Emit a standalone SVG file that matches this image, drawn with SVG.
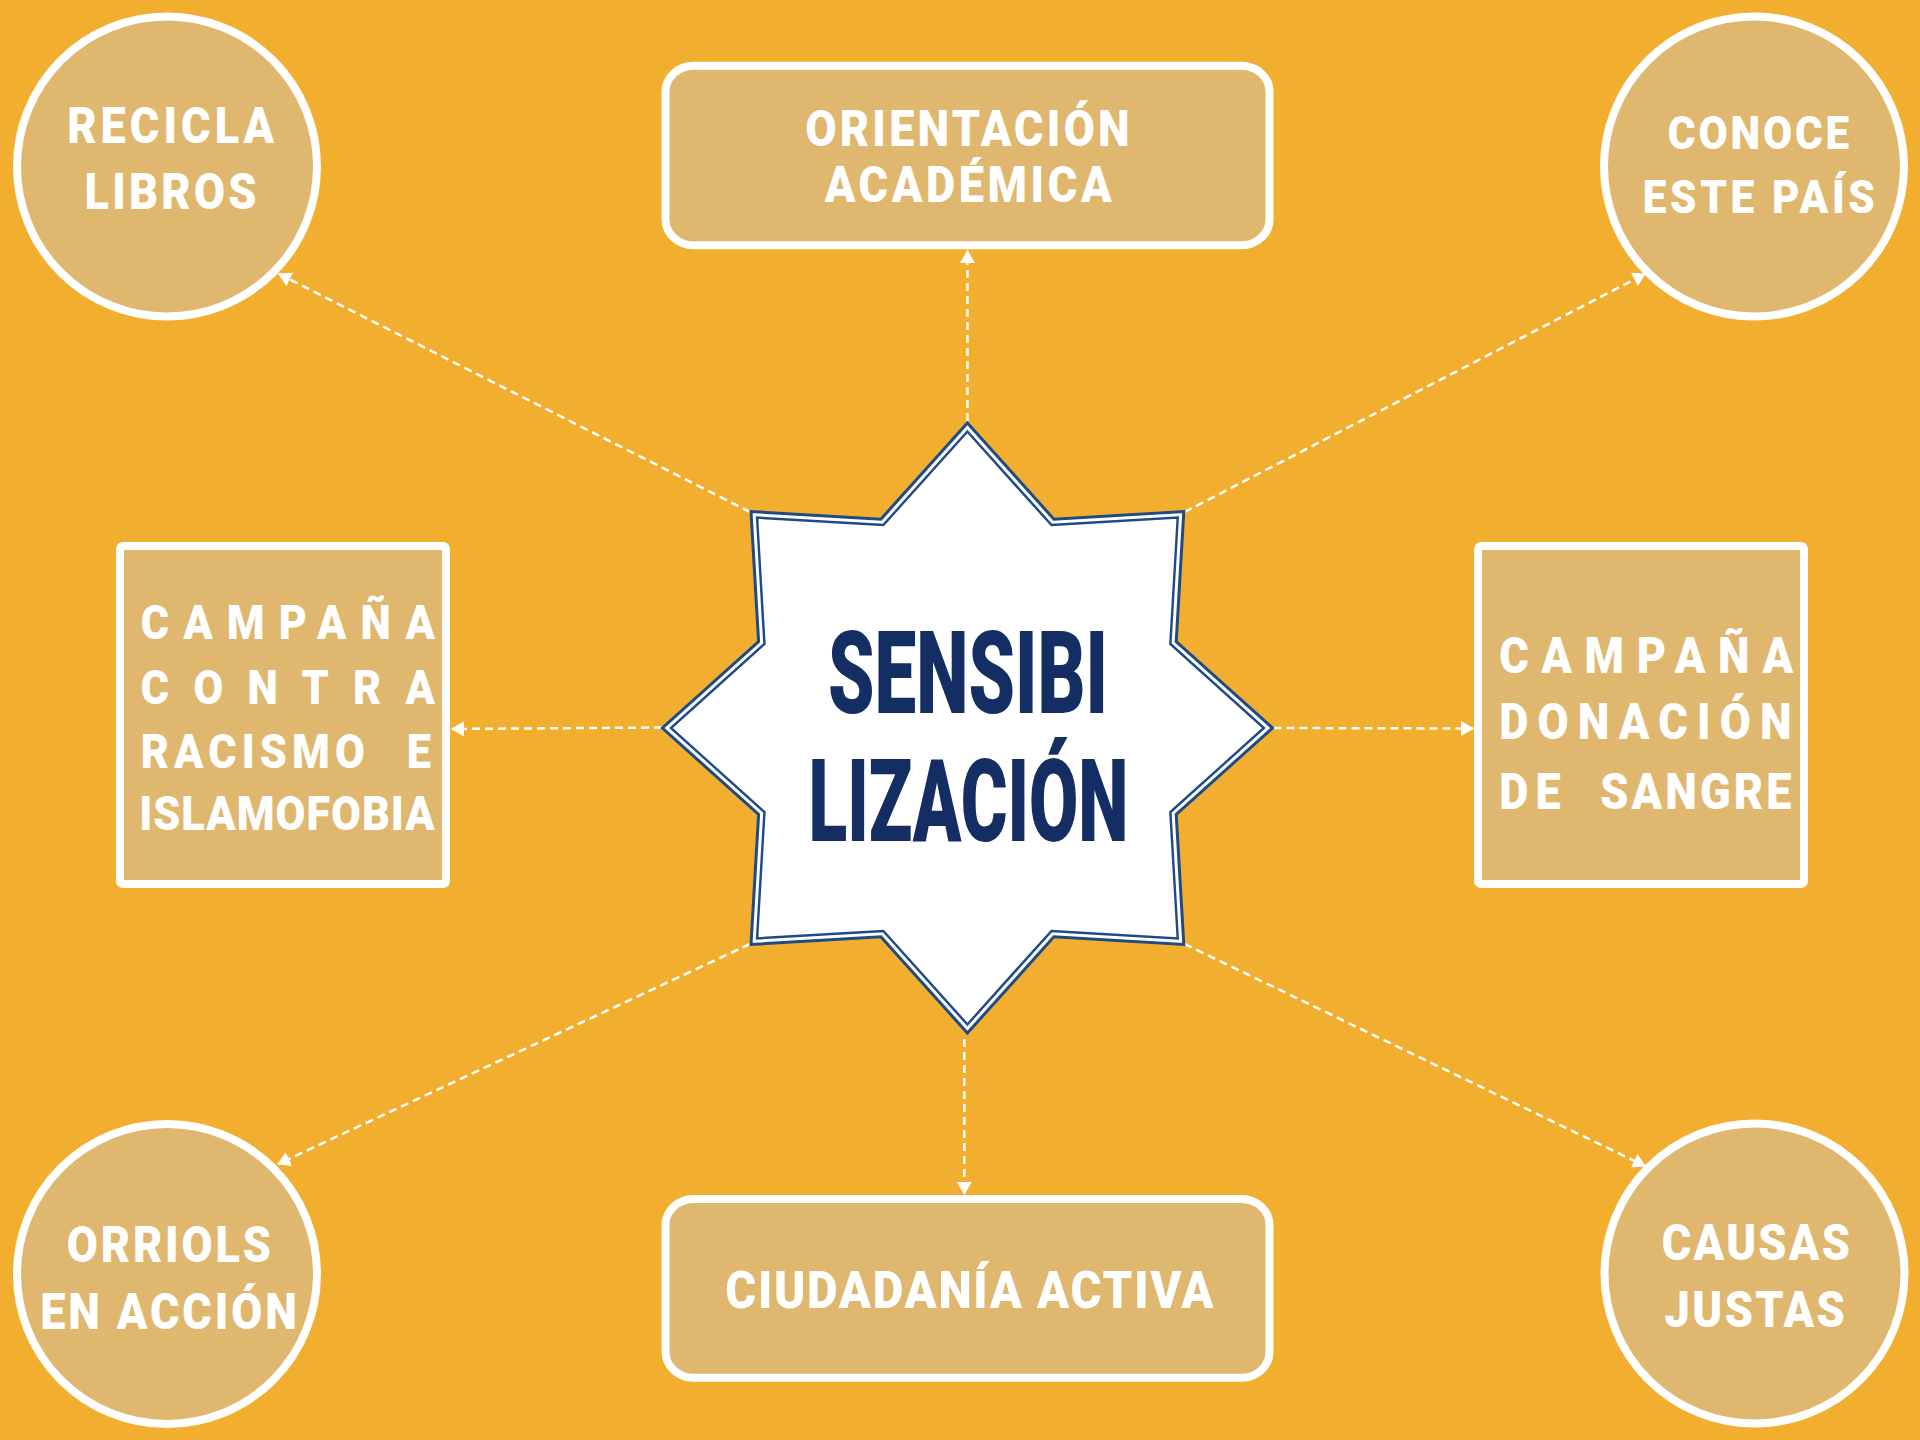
<svg xmlns="http://www.w3.org/2000/svg" width="1920" height="1440" viewBox="0 0 1920 1440">
  <defs>
    <style>
      .node { fill: #DFB76F; stroke: #FFFFFF; stroke-width: 8; }
      .lbl { fill: #FFFFFF; font-family: Roboto, "DejaVu Sans", "Liberation Sans", sans-serif; font-weight: 900; }
      .c50 { font-size: 50px; }
      .c47 { font-size: 47px; }
      .r50 { font-size: 50px; }
      .r52 { font-size: 52.5px; }
      .b48 { font-size: 48px; }
      .b50 { font-size: 50px; }
      .conn { fill: none; stroke: #FFFFFF; stroke-width: 2.5; stroke-dasharray: 8 5; marker-end: url(#ah); }
      .starOuter { fill: #FFFFFF; stroke: #1E4A86; stroke-width: 3; }
      .starInner { fill: #FFFFFF; stroke: #1E4A86; stroke-width: 2.5; }
      .title { fill: #142D62; font-family: Roboto, "DejaVu Sans", "Liberation Sans", sans-serif; font-weight: 900; font-size: 115px; }
    </style>
    <marker id="ah" viewBox="0 0 13 15" refX="12" refY="7.5" markerWidth="13" markerHeight="15" markerUnits="userSpaceOnUse" orient="auto">
      <path d="M0,0 L13,7.5 L0,15 z" fill="#FFFFFF"/>
    </marker>
  </defs>

  <rect x="0" y="0" width="1920" height="1440" fill="#F2AE2F"/>

  <g id="connectors">
    <line class="conn" x1="967.4" y1="421" x2="967.4" y2="251"/>
    <line class="conn" x1="750" y1="512" x2="279" y2="274"/>
    <line class="conn" x1="1184.5" y1="512" x2="1645" y2="274"/>
    <line class="conn" x1="662" y1="727.5" x2="452" y2="729"/>
    <line class="conn" x1="1273.5" y1="728" x2="1473" y2="728.5"/>
    <line class="conn" x1="964.3" y1="1039" x2="964.3" y2="1194"/>
    <line class="conn" x1="750" y1="944" x2="278" y2="1164"/>
    <line class="conn" x1="1184.5" y1="944" x2="1645" y2="1166"/>
  </g>

  <g id="center-star">
    <polygon class="starOuter" points="967.4,423 1053.9,519.2 1183.8,511.6 1176.2,641.5 1272.4,728 1176.2,814.5 1183.8,944.4 1053.9,936.8 967.4,1033 880.9,936.8 751,944.4 758.6,814.5 662.4,728 758.6,641.5 751,511.6 880.9,519.2"/>
    <polygon class="starInner" transform="translate(967.4 728) scale(0.972) translate(-967.4 -728)" points="967.4,423 1053.9,519.2 1183.8,511.6 1176.2,641.5 1272.4,728 1176.2,814.5 1183.8,944.4 1053.9,936.8 967.4,1033 880.9,936.8 751,944.4 758.6,814.5 662.4,728 758.6,641.5 751,511.6 880.9,519.2"/>
    <text class="title" x="828" y="712.7" textLength="280" lengthAdjust="spacingAndGlyphs">SENSIBI</text>
    <text class="title" x="808.5" y="840.7" textLength="320" lengthAdjust="spacingAndGlyphs">LIZACIÓN</text>
  </g>

  <g id="recicla-libros">
    <circle class="node" cx="167" cy="166.5" r="150"/>
    <text class="lbl c50" transform="translate(67.2 142.7) scale(0.9 1)" x="0" y="0" textLength="230">RECICLA</text>
    <text class="lbl c50" transform="translate(84.5 209.3) scale(0.9 1)" x="0" y="0" textLength="191.1">LIBROS</text>
  </g>

  <g id="orientacion-academica">
    <rect class="node" x="665.5" y="65.7" width="604" height="179.6" rx="28" ry="26"/>
    <text class="lbl r50" transform="translate(805.5 146) scale(0.9 1)" x="0" y="0" textLength="360">ORIENTACIÓN</text>
    <text class="lbl r50" transform="translate(824.8 202) scale(0.9 1)" x="0" y="0" textLength="318.6">ACADÉMICA</text>
  </g>

  <g id="conoce-este-pais">
    <circle class="node" cx="1754" cy="166.5" r="150"/>
    <text class="lbl c47" transform="translate(1667.8 149) scale(0.9 1)" x="0" y="0" textLength="201.6">CONOCE</text>
    <text class="lbl c47" transform="translate(1642.8 213.3) scale(0.9 1)" x="0" y="0" textLength="257.8">ESTE PAÍS</text>
  </g>

  <g id="campana-racismo">
    <rect class="node" x="120" y="546" width="326" height="338" rx="3" ry="3"/>
    <text class="lbl b48" transform="translate(140.8 639.3) scale(0.9 1)" x="0" y="0" textLength="326.7">CAMPAÑA</text>
    <text class="lbl b48" transform="translate(140.8 704) scale(0.9 1)" x="0" y="0" textLength="326.7">CONTRA</text>
    <text class="lbl b48" transform="translate(140.8 767.7) scale(0.9 1)" x="0" y="0"><tspan textLength="248.9">RACISMO</tspan> <tspan x="295.6">E</tspan></text>
    <text class="lbl b48" transform="translate(139.2 830) scale(0.9 1)" x="0" y="0" textLength="328.4">ISLAMOFOBIA</text>
  </g>

  <g id="campana-donacion">
    <rect class="node" x="1478" y="546" width="326" height="338" rx="3" ry="3"/>
    <text class="lbl b50" transform="translate(1499.2 673.3) scale(0.9 1)" x="0" y="0" textLength="326.7">CAMPAÑA</text>
    <text class="lbl b50" transform="translate(1499.2 739.3) scale(0.9 1)" x="0" y="0" textLength="324.8">DONACIÓN</text>
    <text class="lbl b50" transform="translate(1499.2 809.3) scale(0.9 1)" x="0" y="0"><tspan textLength="68.4">DE</tspan> <tspan x="112.2" textLength="212.6">SANGRE</tspan></text>
  </g>

  <g id="orriols-en-accion">
    <circle class="node" cx="167" cy="1274" r="150"/>
    <text class="lbl c50" transform="translate(66.8 1262.3) scale(0.9 1)" x="0" y="0" textLength="226.7">ORRIOLS</text>
    <text class="lbl c50" transform="translate(40.2 1329.3) scale(0.9 1)" x="0" y="0" textLength="285.1">EN ACCIÓN</text>
  </g>

  <g id="ciudadania-activa">
    <rect class="node" x="665.5" y="1199" width="604" height="178.7" rx="28" ry="26"/>
    <text class="lbl r52" transform="translate(725.2 1308.3) scale(0.9 1)" x="0" y="0" textLength="542.6">CIUDADANÍA ACTIVA</text>
  </g>

  <g id="causas-justas">
    <circle class="node" cx="1754.5" cy="1273.5" r="150"/>
    <text class="lbl c50" transform="translate(1661.8 1260) scale(0.9 1)" x="0" y="0" textLength="208.9">CAUSAS</text>
    <text class="lbl c50" transform="translate(1664.5 1326.7) scale(0.9 1)" x="0" y="0" textLength="200.3">JUSTAS</text>
  </g>
</svg>
